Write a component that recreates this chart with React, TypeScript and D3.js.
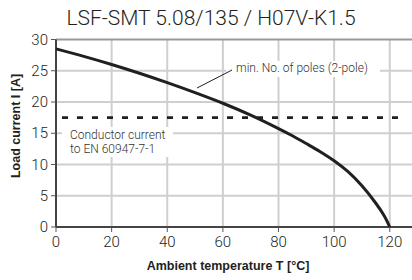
import * as d3 from 'd3';
import React from 'react';

// values
const temps = [0, 10, 20, 30, 40, 50, 60, 70, 80, 85, 90, 95, 100, 105, 110, 115, 118, 120];
const loadCurrent = [28.5, 27.3, 26.0, 24.6, 23.1, 21.5, 19.8, 17.9, 15.75, 14.6, 13.35, 12.05, 10.6, 8.85, 6.6, 3.8, 1.8, 0];
const conductorCurrent = 17.5;
const xTicks = [0, 20, 40, 60, 80, 100, 120];
const yTicks = [0, 5, 10, 15, 20, 25, 30];

const W = 412;
const H = 280;

export default function App() {
    const x = d3.scaleLinear().domain([0, 128]).range([56, 412]);
    const y = d3.scaleLinear().domain([0, 30]).range([227, 39.5]);

    const line = d3.line<number>()
        .x((d, i) => x(temps[i]))
        .y(d => y(d))
        .curve(d3.curveCatmullRom.alpha(0.5));

    const font = "'Liberation Sans', Arial, sans-serif";
    const light = "Roboto, 'Liberation Sans', sans-serif";

    return (
        <svg width={W} height={H} style={{ position: 'absolute', left: 0, top: 0, background: '#fff' }}>
            {/* title */}
            <text x={211} y={25} textAnchor="middle" fontFamily={light} fontWeight={300} fontSize={21} fill="#231f20">
                LSF-SMT 5.08/135 / H07V-K1.5
            </text>

            {/* grid */}
            <g stroke="#cfcfcf" strokeWidth={2}>
                {xTicks.filter(t => t > 0).map(t => (
                    <line key={'gx' + t} x1={x(t)} x2={x(t)} y1={y(30)} y2={y(0)} />
                ))}
                {yTicks.filter(t => t > 0 && t < 30).map(t => (
                    <line key={'gy' + t} x1={x(0)} x2={W} y1={y(t)} y2={y(t)} />
                ))}
            </g>
            <line x1={x(0)} x2={W} y1={y(30)} y2={y(30)} stroke="#999" strokeWidth={2} />

            {/* label backgrounds */}
            <rect x={62} y={127} width={111} height={30} fill="#fff" />
            <rect x={226} y={61} width={154} height={16} fill="#fff" />

            {/* axes */}
            <line x1={x(0)} x2={x(0)} y1={y(30)} y2={y(0)} stroke="#444" strokeWidth={2} />
            <line x1={x(0)} x2={W} y1={y(0)} y2={y(0)} stroke="#444" strokeWidth={2} />
            <g stroke="#555" strokeWidth={1}>
                {yTicks.map(t => (
                    <line key={'ty' + t} x1={x(0) - 5} x2={x(0)} y1={y(t)} y2={y(t)} />
                ))}
                {xTicks.map(t => (
                    <line key={'tx' + t} x1={x(t)} x2={x(t)} y1={y(0)} y2={y(0) + 5} />
                ))}
            </g>
            <g fontFamily={light} fontWeight={300} fontSize={15} fill="#231f20">
                {yTicks.map(t => (
                    <text key={'ly' + t} x={48} y={y(t) + 5} textAnchor="end">{t}</text>
                ))}
                {xTicks.map(t => (
                    <text key={'lx' + t} x={x(t)} y={247} textAnchor="middle">{t}</text>
                ))}
            </g>

            {/* conductor current */}
            <line x1={62} x2={406} y1={y(conductorCurrent)} y2={y(conductorCurrent)}
                stroke="#231f20" strokeWidth={2.6} strokeDasharray="6,9" />

            {/* derating curve */}
            <path d={line(loadCurrent) || ''} fill="none" stroke="#231f20" strokeWidth={3} />

            {/* annotations */}
            <line x1={197} y1={88} x2={232} y2={70} stroke="#231f20" strokeWidth={1} />
            <g fontFamily={light} fontWeight={300} fontSize={12} fill="#333">
                <text x={236} y={72}>min. No. of poles (2-pole)</text>
                <text x={70} y={139}>Conductor current</text>
                <text x={70} y={153}>to EN 60947-7-1</text>
            </g>

            {/* axis titles */}
            <text x={228} y={270} textAnchor="middle" fontFamily={font} fontWeight="bold" fontSize={12.5} fill="#231f20">
                Ambient temperature T [°C]
            </text>
            <text transform="translate(20,126) rotate(-90)" textAnchor="middle" fontFamily={font} fontWeight="bold" fontSize={12.5} fill="#231f20">
                Load current I [A]
            </text>
        </svg>
    );
}
